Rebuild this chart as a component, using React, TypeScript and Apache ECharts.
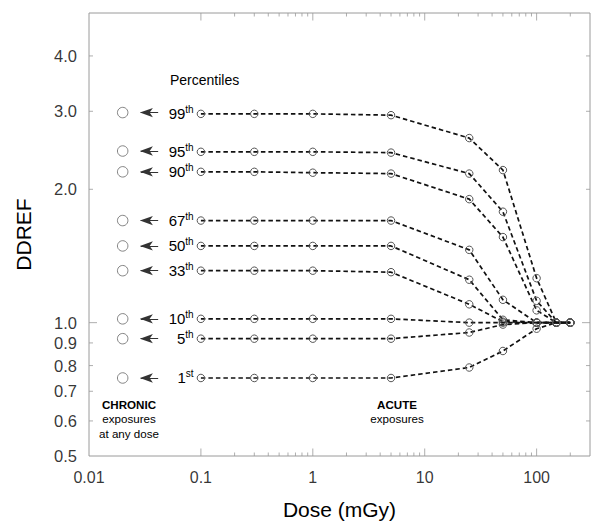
import React, { useEffect, useRef } from 'react';
import * as echarts from 'echarts';

const FONT = '"Liberation Sans", Arial, Helvetica, sans-serif';
const AXIS_COLOR = '#9a9a9a';

// ---- data ----
const percentileNames = ['99', '95', '90', '67', '50', '33', '10', '5', '1'];
const percentileSuffixes = ['th', 'th', 'th', 'th', 'th', 'th', 'th', 'th', 'st'];
const acuteDoses = [0.1, 0.3, 1, 5, 25, 50, 100, 150, 200];
const chronicDose = 0.02;
const chronicValues = [2.98, 2.44, 2.19, 1.7, 1.49, 1.31, 1.02, 0.92, 0.75];

const acute99 = [2.96, 2.96, 2.96, 2.94, 2.61, 2.21, 1.26, 1.0, 1.0];
const acute95 = [2.43, 2.43, 2.43, 2.42, 2.17, 1.78, 1.12, 1.0, 1.0];
const acute90 = [2.19, 2.19, 2.18, 2.17, 1.9, 1.56, 1.066, 1.0, 1.0];
const acute67 = [1.7, 1.7, 1.7, 1.7, 1.46, 1.126, 1.0, 1.0, 1.0];
const acute50 = [1.49, 1.49, 1.49, 1.49, 1.25, 1.015, 1.0, 1.0, 1.0];
const acute33 = [1.31, 1.31, 1.31, 1.3, 1.1, 1.005, 1.0, 1.0, 1.0];
const acute10 = [1.02, 1.02, 1.02, 1.02, 1.0, 1.0, 1.0, 1.0, 1.0];
const acute5 = [0.92, 0.92, 0.92, 0.92, 0.95, 0.99, 1.0, 1.0, 1.0];
const acute1 = [0.75, 0.75, 0.75, 0.75, 0.792, 0.863, 0.969, 1.0, 1.0];
const acuteValues = [acute99, acute95, acute90, acute67, acute50, acute33, acute10, acute5, acute1];

const xLabelValues = [0.01, 0.1, 1, 10, 100];
const xMajorTicks = [0.1, 1, 10, 100];
const xMinorTicks = [0.2, 0.3, 0.4, 0.5, 0.6, 0.7, 0.8, 0.9, 2, 3, 4, 5, 6, 7, 8, 9, 20, 30, 40, 50, 60, 70, 80, 90, 200];
const yLabelValues = [0.5, 0.6, 0.7, 0.8, 0.9, 1, 2, 3, 4];
const yMajorTicks = [1];
const yMinorTicks = [0.6, 0.7, 0.8, 0.9, 2, 3, 4];

const X_MIN = 0.01;
const X_MAX = 300;
const Y_MIN = 0.5;
const Y_MAX = 5;

// arrow geometry (data-space x positions for the chronic arrows)
const ARROW_TAIL_X = 0.0415;
const ARROW_SHAFT_END_X = 0.029;
const ARROW_HEAD_X = 0.0285;

function tickSeries(points: number[][], size: number[], offset: number[]) {
  return {
    type: 'scatter',
    silent: true,
    clip: false,
    symbol: 'rect',
    symbolSize: size,
    symbolOffset: offset,
    itemStyle: { color: AXIS_COLOR },
    emphasis: { disabled: true },
    z: 5,
    data: points,
  };
}

export default function App() {
  const ref = useRef<HTMLDivElement>(null);

  useEffect(() => {
    if (!ref.current) return;
    const chart = echarts.init(ref.current, undefined, { renderer: 'svg' });

    const lineSeries = acuteValues.map((vals, i) => ({
      type: 'line',
      name: percentileNames[i] + percentileSuffixes[i],
      silent: true,
      clip: false,
      symbol: 'circle',
      symbolSize: 7.5,
      showSymbol: true,
      z: 3,
      itemStyle: { color: 'rgba(255,255,255,0)', borderColor: '#555', borderWidth: 1 },
      lineStyle: { color: '#111', width: 1.7, type: [4.5, 3] },
      emphasis: { disabled: true },
      data: acuteDoses.map((d, j) =>
        j === 0
          ? {
              value: [d, vals[j]],
              label: {
                show: true,
                position: 'left',
                distance: 3,
                formatter: `{n|${percentileNames[i]}}{s|${percentileSuffixes[i]}}`,
                rich: {
                  n: { fontSize: 15, fontFamily: FONT, color: '#000', lineHeight: 18, verticalAlign: 'middle' },
                  s: { fontSize: 10, fontFamily: FONT, color: '#000', lineHeight: 18, verticalAlign: 'top' },
                },
              },
            }
          : [d, vals[j]]
      ),
    }));

    const option: any = {
      animation: false,
      backgroundColor: '#fff',
      grid: {
        left: 89,
        right: 11,
        top: 13,
        bottom: 74,
        show: true,
        borderColor: AXIS_COLOR,
        borderWidth: 1,
        backgroundColor: 'transparent',
      },
      xAxis: {
        type: 'log',
        logBase: 10,
        min: X_MIN,
        max: X_MAX,
        name: 'Dose (mGy)',
        nameLocation: 'middle',
        nameGap: 43,
        nameTextStyle: { fontSize: 21, color: '#000', fontFamily: FONT },
        axisLine: { show: false },
        axisTick: { show: false },
        axisLabel: { show: false },
        splitLine: { show: false },
        minorTick: { show: false },
      },
      yAxis: {
        type: 'log',
        logBase: 10,
        min: Y_MIN,
        max: Y_MAX,
        name: 'DDREF',
        nameLocation: 'middle',
        nameGap: 55,
        nameTextStyle: { fontSize: 21, color: '#000', fontFamily: FONT },
        axisLine: { show: false },
        axisTick: { show: false },
        axisLabel: { show: false },
        splitLine: { show: false },
        minorTick: { show: false },
      },
      series: [
        // axis ticks
        tickSeries(xMajorTicks.map((x) => [x, Y_MIN]), [1, 7.5], [0, -3.75]),
        tickSeries(xMinorTicks.map((x) => [x, Y_MIN]), [1, 3.5], [0, -1.75]),
        tickSeries(xMajorTicks.map((x) => [x, Y_MAX]), [1, 7.5], [0, 3.75]),
        tickSeries(xMinorTicks.map((x) => [x, Y_MAX]), [1, 3.5], [0, 1.75]),
        tickSeries(yMajorTicks.map((y) => [X_MIN, y]), [8, 1], [4, 0]),
        tickSeries(yMinorTicks.map((y) => [X_MIN, y]), [4, 1], [2, 0]),
        tickSeries(yMajorTicks.map((y) => [X_MAX, y]), [8, 1], [-4, 0]),
        tickSeries(yMinorTicks.map((y) => [X_MAX, y]), [4, 1], [-2, 0]),
        // tick labels
        {
          type: 'scatter',
          silent: true,
          clip: false,
          symbol: 'circle',
          symbolSize: 1,
          itemStyle: { color: 'rgba(0,0,0,0)' },
          emphasis: { disabled: true },
          data: xLabelValues.map((x) => [x, Y_MIN]),
          label: {
            show: true,
            position: 'bottom',
            distance: 13,
            formatter: (p: any) => String(p.value[0]),
            fontSize: 16,
            color: '#000',
            fontFamily: FONT,
          },
        },
        {
          type: 'scatter',
          silent: true,
          clip: false,
          symbol: 'circle',
          symbolSize: 1,
          itemStyle: { color: 'rgba(0,0,0,0)' },
          emphasis: { disabled: true },
          data: yLabelValues.map((y) => [X_MIN, y]),
          label: {
            show: true,
            position: 'left',
            distance: 11.5,
            formatter: (p: any) => Number(p.value[1]).toFixed(1),
            fontSize: 16.5,
            color: '#000',
            fontFamily: FONT,
          },
        },
        ...lineSeries,
        // chronic exposures
        {
          type: 'scatter',
          name: 'chronic',
          silent: true,
          clip: false,
          symbol: 'circle',
          symbolSize: 10.5,
          itemStyle: { color: 'rgba(255,255,255,0)', borderColor: '#666', borderWidth: 1 },
          emphasis: { disabled: true },
          data: chronicValues.map((v) => [chronicDose, v]),
          markLine: {
            silent: true,
            animation: false,
            symbol: ['none', 'none'],
            lineStyle: { color: '#333', width: 1, type: 'solid' },
            label: { show: false },
            emphasis: { disabled: true },
            data: chronicValues.map((v) => [
              { coord: [ARROW_TAIL_X, v] },
              { coord: [ARROW_SHAFT_END_X, v] },
            ]),
          },
        },
        {
          type: 'scatter',
          silent: true,
          clip: false,
          symbol: 'arrow',
          symbolSize: [7, 13],
          symbolRotate: 90,
          itemStyle: { color: '#000' },
          emphasis: { disabled: true },
          z: 4,
          data: chronicValues.map((v) => [ARROW_HEAD_X, v]),
        },
      ],
      graphic: [
        {
          type: 'text',
          x: 170,
          y: 80,
          style: { text: 'Percentiles', fontSize: 14, fontFamily: FONT, fill: '#000', align: 'left', verticalAlign: 'middle' },
        },
        {
          type: 'text',
          x: 129,
          y: 404,
          style: { text: 'CHRONIC', fontSize: 11.6, fontWeight: 'bold', fontFamily: FONT, fill: '#000', align: 'center', verticalAlign: 'middle' },
        },
        {
          type: 'text',
          x: 129,
          y: 418.5,
          style: { text: 'exposures', fontSize: 11.6, fontFamily: FONT, fill: '#000', align: 'center', verticalAlign: 'middle' },
        },
        {
          type: 'text',
          x: 129,
          y: 433,
          style: { text: 'at any dose', fontSize: 11.6, fontFamily: FONT, fill: '#000', align: 'center', verticalAlign: 'middle' },
        },
        {
          type: 'text',
          x: 397,
          y: 404,
          style: { text: 'ACUTE', fontSize: 11.6, fontWeight: 'bold', fontFamily: FONT, fill: '#000', align: 'center', verticalAlign: 'middle' },
        },
        {
          type: 'text',
          x: 397,
          y: 418.5,
          style: { text: 'exposures', fontSize: 11.6, fontFamily: FONT, fill: '#000', align: 'center', verticalAlign: 'middle' },
        },
      ],
    };

    chart.setOption(option);
    return () => {
      chart.dispose();
    };
  }, []);

  return (
    <div
      ref={ref}
      style={{ position: 'fixed', left: 0, top: 0, width: 601, height: 530, background: '#fff' }}
    />
  );
}
